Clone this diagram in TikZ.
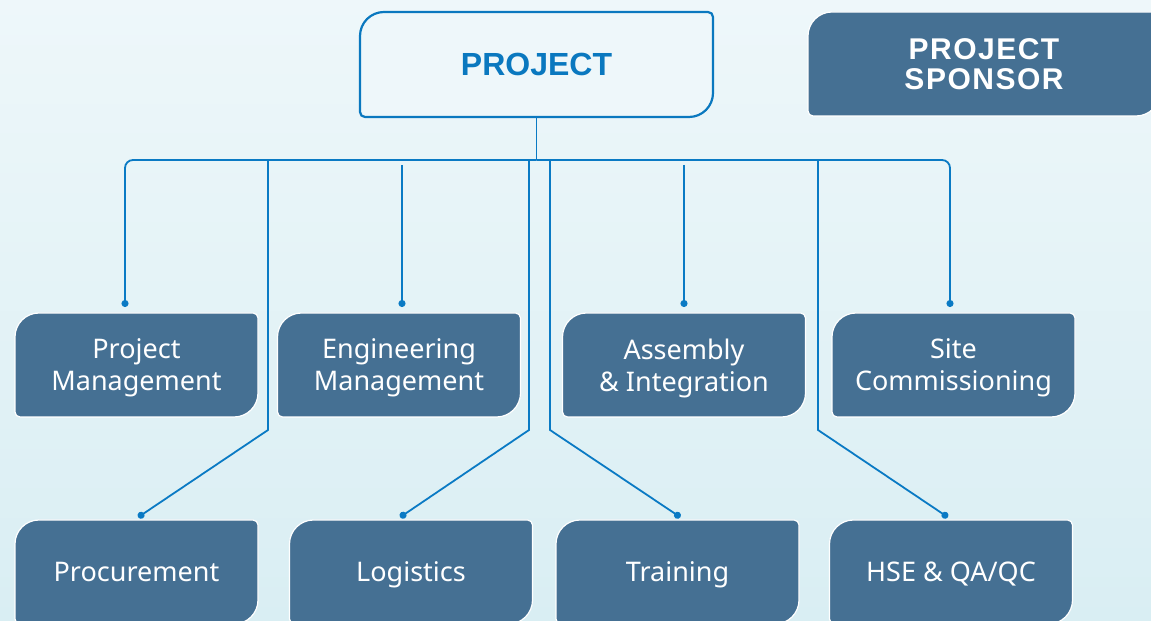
\documentclass[tikz,border=0pt]{standalone}
\usepackage{fontspec}
\setmainfont{Noto Sans}
\newfontfamily\headfont{Liberation Sans}
\usetikzlibrary{arrows.meta}
\definecolor{cardblue}{HTML}{457093}
\definecolor{linkblue}{HTML}{0A7AC4}
\definecolor{titleblue}{HTML}{0A78BF}
\definecolor{bgtop}{HTML}{EEF7FA}
\definecolor{bgbottom}{HTML}{D9EEF3}
\pgfdeclarelayer{back}
\pgfdeclarelayer{cards}
\pgfsetlayers{back,cards,main}
% outline with big rounding at top left and bottom right
\newcommand{\cardoutline}[2]{%
  \path[#1] ([yshift=-24pt]#2.north west) arc[start angle=180,end angle=90,radius=24pt]
    -- ([xshift=-5pt]#2.north east) arc[start angle=90,end angle=0,radius=5pt]
    -- ([yshift=24pt]#2.south east) arc[start angle=0,end angle=-90,radius=24pt]
    -- ([xshift=5pt]#2.south west) arc[start angle=270,end angle=180,radius=5pt] -- cycle;}
\begin{document}
\begin{tikzpicture}
    [
    x=1pt,y=1pt,
    card/.style={inner sep=0pt,outer sep=0pt,minimum width=243pt,minimum height=104pt,text=white,align=center,text depth=0pt,font=\fontsize{27}{32}\selectfont},
    twoline/.style={execute at begin node={\rule{0pt}{27pt}}},
    head/.style={inner sep=0pt,outer sep=0pt,minimum width=353pt,minimum height=105pt,text=titleblue,font=\headfont\fontsize{32}{34}\selectfont\bfseries},
    cardfill/.style={fill=cardblue,draw=white,line width=1.2pt},
    headfill/.style={fill=bgtop,draw=titleblue,line width=2.2pt},
    link/.style={linkblue,line width=1.8pt},
    dotlink/.style={link,-{Circle[length=7pt]},shorten >=6pt}
    ]
    \useasboundingbox (0,0) rectangle (1151,621);
    \begin{pgfonlayer}{back}
      \shade [top color=bgtop,bottom color=bgbottom] (0,0) rectangle (1151,621);
    \end{pgfonlayer}
    \node (project) at (536.5,556.5) [head] {PROJECT};
    \node (sponsor) at (984,557) [card,minimum width=352pt,text depth=,font=\headfont\fontsize{30}{30}\selectfont\bfseries\addfontfeatures{LetterSpace=5}] {PROJECT\\SPONSOR};
    \node (pm) at (136.5,256) [card,twoline] {Project\\Management};
    \node (em) at (399,256) [card,twoline] {Engineering\\Management};
    \node (ai) at (684,256) [card,twoline] {Assembly\\\& Integration};
    \node (sc) at (953.5,256) [card,twoline] {Site\\Commissioning};
    \node (proc) at (136.5,49) [card] {Procurement};
    \node (log) at (411,49) [card] {Logistics};
    \node (train) at (677.5,49) [card] {Training};
    \node (hse) at (951,49) [card] {HSE \& QA/QC};
    \begin{pgfonlayer}{cards}
      \cardoutline{headfill}{project}
      \cardoutline{cardfill}{sponsor}
      \cardoutline{cardfill}{pm}
      \cardoutline{cardfill}{em}
      \cardoutline{cardfill}{ai}
      \cardoutline{cardfill}{sc}
      \cardoutline{cardfill}{proc}
      \cardoutline{cardfill}{log}
      \cardoutline{cardfill}{train}
      \cardoutline{cardfill}{hse}
    \end{pgfonlayer}
    \coordinate (bus) at (536.5,461);
    \coordinate (emtop) at (402,456);
    \coordinate (aitop) at (684,456);
    \coordinate (proctop) at (268,461);
    \coordinate (prockink) at (268,191);
    \coordinate (logtop) at (529,461);
    \coordinate (logkink) at (529,191);
    \coordinate (traintop) at (550,461);
    \coordinate (trainkink) at (550,191);
    \coordinate (hsetop) at (818,461);
    \coordinate (hsekink) at (818,191);
    \draw [link] (project) -- (bus);
    \draw [dotlink, rounded corners=8pt] (bus) -| ([xshift=-11.5pt]pm.north);
    \draw [dotlink, rounded corners=8pt] (bus) -| ([xshift=-3.5pt]sc.north);
    \draw [dotlink] (emtop) -- ([xshift=3pt]em.north);
    \draw [dotlink] (aitop) -- (ai.north);
    \draw [dotlink, shorten >=5pt] (proctop) -- (prockink) -- ([xshift=-2.5pt]proc.north);
    \draw [dotlink, shorten >=5pt] (logtop) -- (logkink) -- ([xshift=-15pt]log.north);
    \draw [dotlink, shorten >=5pt] (traintop) -- (trainkink) -- ([xshift=7pt]train.north);
    \draw [dotlink, shorten >=5pt] (hsetop) -- (hsekink) -- ([xshift=1pt]hse.north);
  \end{tikzpicture}
\end{document}
